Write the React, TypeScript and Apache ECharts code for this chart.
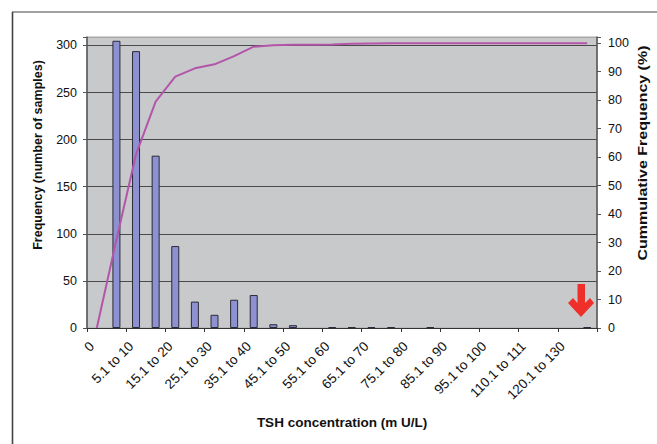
import React, { useEffect, useRef } from "react";
import * as echarts from "echarts";

const categories = [
  "0", "0.1 to 5", "5.1 to 10", "10.1 to 15", "15.1 to 20", "20.1 to 25",
  "25.1 to 30", "30.1 to 35", "35.1 to 40", "40.1 to 45", "45.1 to 50",
  "50.1 to 55", "55.1 to 60", "60.1 to 65", "65.1 to 70", "70.1 to 75",
  "75.1 to 80", "80.1 to 85", "85.1 to 90", "90.1 to 95", "95.1 to 100",
  "100.1 to 110", "110.1 to 111", "111.1 to 120", "120.1 to 130", ">130",
];
const frequency = [0, 305, 294, 183, 87, 28, 14, 30, 35, 4, 3, 0, 1, 1, 1, 1, 0, 1, 0, 0, 0, 0, 0, 0, 0, 1];
const cumulative = [0, 31, 61, 79.5, 88.3, 91.2, 92.6, 95.5, 98.8, 99.3, 99.5, 99.5, 99.6, 99.8, 99.9, 100, 100, 100, 100, 100, 100, 100, 100, 100, 100, 100];

const FONT = "'Liberation Sans', Arial, sans-serif";

export default function App() {
  const ref = useRef<HTMLDivElement>(null);
  useEffect(() => {
    if (!ref.current) return;
    const chart = echarts.init(ref.current, undefined, { renderer: "svg" });
    const gridDark = "#4a4a4a";
    const barData = frequency.map((v) =>
      v === 0 ? { value: v, itemStyle: { borderWidth: 0 } } : v
    );
    chart.setOption({
      animation: false,
      backgroundColor: "#ffffff",
      textStyle: { fontFamily: FONT },
      grid: {
        left: 87, top: 37, width: 510, height: 291,
        show: true, backgroundColor: "#c8c9cb", borderColor: "#a8a8a8", borderWidth: 1,
      },
      xAxis: {
        type: "category",
        data: categories,
        boundaryGap: true,
        axisLine: { show: true, lineStyle: { color: "#333", width: 1 } },
        axisTick: { show: true, length: 4, lineStyle: { color: "#333" } },
        axisLabel: {
          interval: 1, rotate: 45, margin: 21, verticalAlign: "bottom",
          fontSize: 13.5, color: "#111", fontFamily: FONT,
        },
      },
      yAxis: [
        {
          type: "value", min: 0, max: 309, interval: 50,
          axisLine: { show: true, lineStyle: { color: "#555", width: 1.5 } },
          axisTick: { show: true, length: 4, lineStyle: { color: "#555" } },
          axisLabel: {
            margin: 10, fontSize: 12.5, color: "#111", fontFamily: FONT,
            formatter: (v: number) => (v % 50 === 0 ? String(v) : ""),
          },
          splitLine: {
            show: true,
            lineStyle: { color: [gridDark, gridDark, gridDark, gridDark, gridDark, gridDark, gridDark, "#a8a8a8"], width: 1 },
          },
        },
        {
          type: "value", min: 0, max: 102.2, interval: 10, position: "right",
          axisLine: { show: true, lineStyle: { color: "#555", width: 1.5 } },
          axisTick: { show: true, length: 4, lineStyle: { color: "#555" } },
          axisLabel: {
            margin: 11, fontSize: 12.5, color: "#111", fontFamily: FONT,
            formatter: (v: number) => (v % 10 === 0 ? String(v) : ""),
          },
          splitLine: { show: false },
        },
      ],
      series: [
        {
          type: "bar", data: barData, yAxisIndex: 0, barWidth: 8,
          itemStyle: { color: "#8e91d0", borderColor: "#2a2a3a", borderWidth: 1 },
        },
        {
          type: "line", data: cumulative, yAxisIndex: 1, symbol: "none",
          lineStyle: { color: "#b356aa", width: 2 },
        },
      ],
      graphic: [
        { type: "line", shape: { x1: 12, y1: 12, x2: 657, y2: 12 }, style: { stroke: "#444", lineWidth: 1.2 } },
        { type: "line", shape: { x1: 12.5, y1: 12, x2: 12.5, y2: 444 }, style: { stroke: "#444", lineWidth: 1.6 } },
        {
          type: "text", x: 38, y: 155, rotation: Math.PI / 2,
          style: { text: "Frequency (number of samples)", fontSize: 12.5, fontWeight: "bold", fontFamily: FONT, fill: "#111", textAlign: "center", textVerticalAlign: "middle" },
        },
        {
          type: "text", x: 643, y: 153, rotation: Math.PI / 2, scaleX: 1.28,
          style: { text: "Cummulative Frequency (%)", fontSize: 12.5, fontWeight: "bold", fontFamily: FONT, fill: "#111", textAlign: "center", textVerticalAlign: "middle" },
        },
        {
          type: "text", x: 342, y: 422,
          style: { text: "TSH concentration (m U/L)", fontSize: 13.5, fontWeight: "bold", fontFamily: FONT, fill: "#111", textAlign: "center", textVerticalAlign: "middle" },
        },
        {
          type: "polygon",
          shape: {
            points: [
              [577.5, 284], [585, 284], [585, 303], [590, 298], [594, 303],
              [581, 317], [568, 303], [573, 298], [577.5, 303],
            ],
          },
          style: { fill: "#ee2f2a" },
        },
      ],
    });
    return () => chart.dispose();
  }, []);
  return <div ref={ref} style={{ position: "fixed", left: 0, top: 0, width: 657, height: 444 }} />;
}
